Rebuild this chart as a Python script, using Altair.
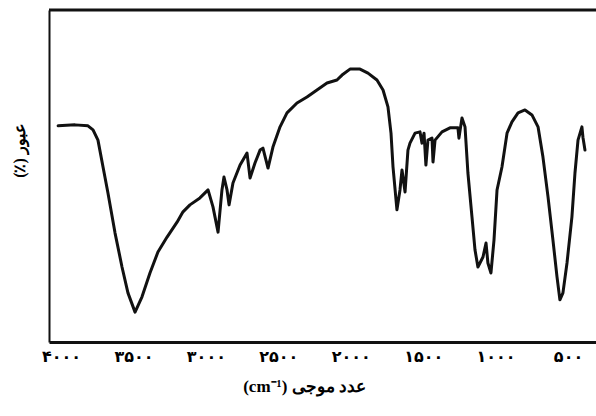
import altair as alt
import pandas as pd

# IR spectrum: wavenumber (cm^-1) and transmittance (%)
wavenumber = [
    4020, 3903, 3814, 3779, 3745, 3710, 3676, 3627, 3579, 3538,
    3489, 3441, 3386, 3331, 3268, 3199, 3158, 3110, 3041, 2985,
    2951, 2916, 2889, 2875, 2854, 2840, 2813, 2764, 2716, 2695,
    2661, 2626, 2606, 2585, 2571, 2537, 2488, 2440, 2371, 2302,
    2233, 2164, 2095, 2060, 2005, 1936, 1881, 1819, 1777, 1743,
    1722, 1708, 1681, 1660, 1646, 1625, 1605, 1591, 1556, 1522,
    1508, 1494, 1481, 1467, 1439, 1432, 1418, 1370, 1315, 1260,
    1253, 1232, 1211, 1191, 1163, 1142, 1122, 1087, 1066, 1053,
    1032, 1011, 990, 956, 921, 887, 845, 797, 749, 707,
    673, 638, 604, 576, 556, 535, 507, 473, 452, 431,
    404, 397, 383,
]
transmittance = [
    65.1, 65.4, 65.1, 63.9, 60.8, 52.7, 44.9, 32.8, 22.6, 14.8,
    9.0, 13.6, 20.8, 27.1, 31.6, 36.1, 39.2, 41.3, 43.4, 45.8,
    40.7, 33.1, 45.8, 49.7, 45.8, 41.3, 47.9, 53.3, 56.9, 49.4,
    53.9, 57.8, 58.4, 54.8, 52.4, 58.7, 64.8, 69.0, 72.0, 73.8,
    75.9, 78.0, 78.9, 80.4, 82.2, 82.2, 81.0, 78.9, 75.9, 70.8,
    62.9, 52.7, 39.8, 45.8, 51.8, 45.2, 57.8, 59.9, 62.9, 63.3,
    59.9, 62.9, 53.3, 60.8, 61.4, 54.2, 60.8, 63.3, 64.5, 64.5,
    61.4, 67.5, 64.8, 50.9, 37.7, 27.7, 22.6, 25.6, 29.8, 23.8,
    20.8, 30.7, 45.8, 52.7, 62.9, 66.3, 69.0, 69.9, 68.4, 64.8,
    55.7, 43.7, 30.7, 19.6, 12.7, 14.8, 23.8, 37.7, 50.9, 60.8,
    64.8, 61.7, 57.8,
]

# Axis ticks and their Persian-digit labels
tick_values = [4000, 3500, 3000, 2500, 2000, 1500, 1000, 500]
tick_labels = ["۴۰۰۰", "۳۵۰۰", "۳۰۰۰", "۲۵۰۰", "۲۰۰۰", "۱۵۰۰", "۱۰۰۰", "۵۰۰"]

x_title = "(cm⁻¹) عدد موجی"
y_title = "(٪) عبور"

# Ends of the wavenumber and transmittance scales
wn_left, wn_right = 4083, 293
t_min, t_max = 0, 100

df = pd.DataFrame({"wn": wavenumber, "t": transmittance})
# Top edge of the frame: a line along 100 % across the whole wavenumber range
top_edge = pd.DataFrame({"wn": [wn_left, wn_right], "t": [t_max, t_max]})

label_expr = "".join(
    f"datum.value == {v} ? '{s}' : " for v, s in zip(tick_values, tick_labels)
) + "''"

x_scale = alt.Scale(domain=[wn_left, wn_right], nice=False, zero=False)
y_scale = alt.Scale(domain=[t_min, t_max], nice=False, zero=False)

bottom_axis = alt.Axis(
    values=tick_values,
    labelExpr=label_expr,
    orient="bottom",
    ticks=False,
    grid=False,
    domainColor="#111111",
    domainWidth=3,
    labelFont="DejaVu Sans",
    labelFontWeight="bold",
    labelFontSize=16,
    labelColor="#000000",
    labelPadding=6,
    labelFlush=False,
    title=x_title,
    titleFont="Liberation Serif",
    titleFontWeight="bold",
    titleFontSize=17,
    titleColor="#000000",
    titleX=255,
    titleY=44,
    titleAlign="center",
    titleBaseline="middle",
)

left_axis = alt.Axis(
    labels=False,
    ticks=False,
    grid=False,
    domainColor="#111111",
    domainWidth=2,
    title=y_title,
    titleFont="Liberation Serif",
    titleFontWeight="bold",
    titleFontSize=16,
    titleColor="#000000",
    titleX=-30,
    titleY=140,
    titleAngle=270,
    titleAlign="center",
    titleBaseline="middle",
)

spectrum = (
    alt.Chart(df)
    .mark_line(color="#111111", strokeWidth=3.0, strokeJoin="round", strokeCap="round")
    .encode(
        x=alt.X("wn:Q", scale=x_scale, axis=bottom_axis),
        y=alt.Y("t:Q", scale=y_scale, axis=left_axis),
    )
)

frame_top = (
    alt.Chart(top_edge)
    .mark_line(color="#111111", strokeWidth=3.0, clip=False)
    .encode(
        x=alt.X("wn:Q", scale=x_scale),
        y=alt.Y("t:Q", scale=y_scale),
    )
)

chart = (
    alt.layer(spectrum, frame_top)
    .properties(
        width=549,
        height=332,
        autosize=alt.AutoSizeParams(type="none"),
        padding={"left": 49, "top": 10, "right": -2, "bottom": 74},
        background="white",
    )
    .configure_view(stroke=None)
)

chart.save("out.html", embed_options={"renderer": "svg", "actions": False})
